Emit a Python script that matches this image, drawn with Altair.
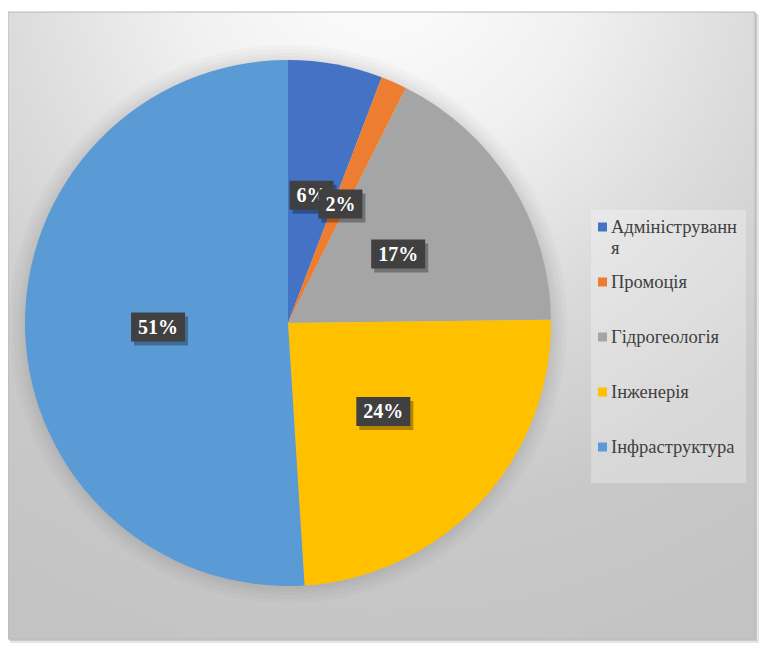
import altair as alt
import pandas as pd

# ---- data ----
categories = ["Адміністрування", "Промоція", "Гідрогеологія", "Інженерія", "Інфраструктура"]
values = [5.8, 1.6, 17.4, 24.2, 51.0]
colors = ["#4472C4", "#ED7D31", "#A5A5A5", "#FFC000", "#5B9BD5"]

df = pd.DataFrame({"cat": categories, "val": values, "idx": list(range(len(categories)))})
one = pd.DataFrame({"k": [0]})

# ---- layout constants ----
W, H = 753, 636
CX, CY, R = 280, 315, 263
LR = 130  # label radius
SERIF = "Liberation Serif"

color = alt.Color("cat:N", scale=alt.Scale(domain=categories, range=colors), legend=None)

# frame shadow + background
frame_sh1 = alt.Chart(one).mark_rect(color="#000000", opacity=0.10).encode(
    x=alt.value(2), x2=alt.value(751), y=alt.value(6), y2=alt.value(635))
frame_sh2 = alt.Chart(one).mark_rect(color="#000000", opacity=0.12).encode(
    x=alt.value(1), x2=alt.value(749), y=alt.value(5), y2=alt.value(633))
bg = alt.Chart(one).mark_rect(
    fill=alt.Gradient(
        gradient="radial", x1=0.5, y1=0.0, r1=0.0, x2=0.5, y2=0.0, r2=1.0,
        stops=[
            alt.GradientStop(offset=0.0, color="#ffffff"),
            alt.GradientStop(offset=0.28, color="#f0f0f0"),
            alt.GradientStop(offset=0.5, color="#dcdcdc"),
            alt.GradientStop(offset=0.75, color="#c9c9c9"),
            alt.GradientStop(offset=1.0, color="#c3c3c3"),
        ],
    ),
    stroke="#b8b8b8", strokeWidth=1,
).encode(x=alt.value(0), x2=alt.value(747), y=alt.value(4), y2=alt.value(631))

# pie halo (soft shadow)
halos = [
    alt.Chart(one).mark_arc(radius=R + d, theta=0, theta2=6.2832, color="#000000", opacity=0.02).encode(
        x=alt.value(CX), y=alt.value(CY + 1))
    for d in (16, 12, 8, 5, 2)
]

pie = alt.Chart(df).mark_arc(radius=R).encode(
    theta=alt.Theta("val:Q", stack=True),
    color=color,
    order=alt.Order("idx:Q"),
    x=alt.value(CX), y=alt.value(CY),
)

# labels
lab = (
    alt.Chart(df)
    .transform_joinaggregate(total="sum(val)")
    .transform_window(cum="sum(val)", sort=[alt.SortField("idx")], frame=[None, 0])
    .transform_calculate(mid="(datum.cum - datum.val / 2) / datum.total * 2 * PI")
    .transform_calculate(lx=f"{CX} + {LR} * sin(datum.mid)")
    .transform_calculate(ly=f"{CY} - {LR} * cos(datum.mid)")
    .transform_calculate(pct="round(datum.val / datum.total * 100) + '%'")
    .transform_calculate(bw="24 + 10 * length(datum.pct)")
    .transform_calculate(bx1="datum.lx - datum.bw / 2", bx2="datum.lx + datum.bw / 2")
    .transform_calculate(by1="datum.ly - 14.5", by2="datum.ly + 14.5")
    .transform_calculate(sx1="datum.bx1 + 3", sx2="datum.bx2 + 3", sy1="datum.by1 + 4", sy2="datum.by2 + 4")
)
label_layers = []
for i in range(len(categories)):
    li = lab.transform_filter(f"datum.idx == {i}")
    label_layers += [
        li.mark_rect(color="#000000", opacity=0.3).encode(
            x=alt.X("sx1:Q", scale=None), x2="sx2:Q", y=alt.Y("sy1:Q", scale=None), y2="sy2:Q"),
        li.mark_rect(color="#404040").encode(
            x=alt.X("bx1:Q", scale=None), x2="bx2:Q", y=alt.Y("by1:Q", scale=None), y2="by2:Q"),
        li.mark_text(
            font=SERIF, fontWeight="bold", fontSize=20, color="#ffffff",
            align="center", baseline="middle", dy=1,
        ).encode(x=alt.X("lx:Q", scale=None), y=alt.Y("ly:Q", scale=None), text="pct:N"),
    ]

# legend (custom)
leg_box = alt.Chart(one).mark_rect(color="#ffffff", opacity=0.28).encode(
    x=alt.value(583), x2=alt.value(738), y=alt.value(202), y2=alt.value(475))
leg = (
    alt.Chart(df)
    .transform_calculate(ry="219 + 55 * datum.idx")
    .transform_calculate(ty="datum.ry + 6")
    .transform_calculate(
        wrapped="length(datum.cat) > 14 ? substring(datum.cat, 0, 14) + '\\n' + substring(datum.cat, 14) : datum.cat")
)
leg_sq = leg.mark_square(size=81, opacity=1).encode(
    x=alt.value(594.5), y=alt.Y("ry:Q", scale=None), color=color)
leg_txt = leg.mark_text(
    font=SERIF, fontSize=18.5, color="#404040", align="left", baseline="alphabetic",
    lineBreak="\n", lineHeight=21,
).encode(x=alt.value(603), y=alt.Y("ty:Q", scale=None), text="wrapped:N")

chart = alt.layer(
    frame_sh1, frame_sh2, bg, *halos, pie, *label_layers, leg_box, leg_sq, leg_txt
).properties(
    width=W, height=H, padding=0, autosize="none", background="#ffffff"
).configure_view(stroke=None)

chart.save("out.html", embed_options={"renderer": "svg", "actions": False})
